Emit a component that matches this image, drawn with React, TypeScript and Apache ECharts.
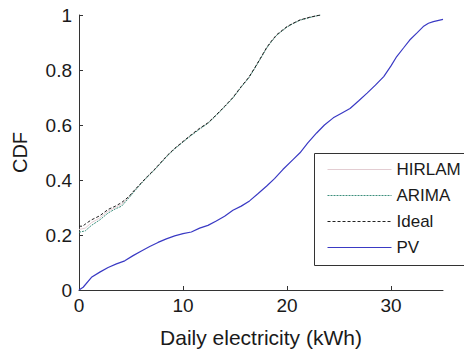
import React, { useEffect, useRef } from "react";
import * as echarts from "echarts";

const xTicks = [0, 10, 20, 30];
const yTicks = [0, 0.2, 0.4, 0.6, 0.8, 1];

const seriesNames = ["HIRLAM", "ARIMA", "Ideal", "PV"];

const idealData: [number, number][] = [
  [0, 0.232], [0.4, 0.232], [0.6, 0.24], [1.2, 0.255], [2.0, 0.27], [2.8, 0.293], [3.5, 0.305],
  [4.1, 0.318], [4.8, 0.34], [5.4, 0.366], [6.0, 0.39], [6.6, 0.414], [7.3, 0.44], [7.9, 0.465],
  [8.5, 0.49], [9.2, 0.515], [10.0, 0.54], [10.8, 0.565], [11.6, 0.588], [12.4, 0.608],
  [13.2, 0.637], [14.0, 0.668], [14.8, 0.7], [15.6, 0.74], [16.3, 0.772], [16.9, 0.808],
  [17.4, 0.84], [18.05, 0.882], [18.5, 0.905], [19.0, 0.928], [20.0, 0.958], [20.6, 0.97],
  [21.25, 0.982], [22.2, 0.992], [23.2, 1.0],
];

const arimaData: [number, number][] = [
  [0, 0.21], [0.6, 0.215], [1.2, 0.235], [2.0, 0.255], [2.8, 0.28], [3.5, 0.295], [4.1, 0.305],
  [4.8, 0.335], [5.4, 0.362], [6.0, 0.388], [6.6, 0.412], [7.3, 0.438], [7.9, 0.463],
  [8.5, 0.488], [9.2, 0.513], [10.0, 0.538], [10.8, 0.562], [11.6, 0.585], [12.4, 0.606],
  [13.2, 0.635], [14.0, 0.666], [14.8, 0.698], [15.6, 0.738], [16.3, 0.77], [16.9, 0.806],
  [17.4, 0.838], [18.05, 0.88], [18.5, 0.903], [19.0, 0.926], [20.0, 0.956], [20.6, 0.969],
  [21.25, 0.981], [22.2, 0.991], [23.2, 1.0],
];

const hirlamData: [number, number][] = [
  [0, 0.22], [0.6, 0.225], [1.2, 0.245], [2.0, 0.262], [2.8, 0.287], [3.5, 0.3], [4.1, 0.312],
  [4.8, 0.338], [5.4, 0.364], [6.0, 0.389], [6.6, 0.413], [7.3, 0.439], [7.9, 0.464],
  [8.5, 0.489], [9.2, 0.514], [10.0, 0.539], [10.8, 0.564], [11.6, 0.587], [12.4, 0.607],
  [13.2, 0.636], [14.0, 0.667], [14.8, 0.699], [15.6, 0.739], [16.3, 0.771], [16.9, 0.807],
  [17.4, 0.839], [18.05, 0.881], [18.5, 0.904], [19.0, 0.927], [20.0, 0.957], [20.6, 0.97],
  [21.25, 0.982], [22.2, 0.992], [23.2, 1.0],
];

const pvData: [number, number][] = [
  [0, 0], [0.4, 0.01], [1.2, 0.046], [2.0, 0.065], [2.8, 0.082], [3.6, 0.095], [4.4, 0.106],
  [5.2, 0.125], [6.0, 0.142], [6.8, 0.158], [7.6, 0.173], [8.4, 0.186], [9.2, 0.197],
  [10.0, 0.205], [10.8, 0.211], [11.6, 0.225], [12.4, 0.235], [13.2, 0.251], [14.0, 0.268],
  [14.8, 0.29], [15.6, 0.305], [16.4, 0.324], [17.2, 0.35], [18.05, 0.378], [18.8, 0.405],
  [19.6, 0.438], [20.6, 0.475], [21.25, 0.499], [22.0, 0.535], [22.85, 0.571], [23.6, 0.6],
  [24.45, 0.626], [25.2, 0.642], [26.06, 0.66], [26.9, 0.688], [27.7, 0.716], [28.5, 0.745],
  [29.3, 0.776], [30.0, 0.815], [30.55, 0.849], [31.2, 0.88], [31.8, 0.909], [32.5, 0.935],
  [33.1, 0.958], [33.6, 0.97], [34.07, 0.976], [35.0, 0.984],
];

const FONT = "Liberation Sans, Arial, sans-serif";

export default function App() {
  const ref = useRef<HTMLDivElement>(null);
  useEffect(() => {
    if (!ref.current) return;
    const chart = echarts.init(ref.current, null, { renderer: "svg" });
    const axisCommon = {
      axisLine: { show: true, lineStyle: { color: "#333", width: 1 } },
      axisTick: { show: true, inside: true, length: 4, lineStyle: { color: "#333" } },
      splitLine: { show: false },
      axisLabel: { color: "#1a1a1a", fontSize: 19, fontFamily: FONT },
      nameTextStyle: { color: "#1a1a1a", fontSize: 20, fontFamily: FONT },
    };
    chart.setOption({
      animation: false,
      backgroundColor: "#fff",
      grid: { left: 79, right: 21, top: 15, bottom: 62, containLabel: false },
      xAxis: {
        type: "value",
        min: 0,
        max: 35,
        interval: 10,
        name: "Daily electricity (kWh)",
        nameLocation: "middle",
        nameGap: 37,
        ...axisCommon,
        nameTextStyle: { ...axisCommon.nameTextStyle, fontSize: 21 },
        axisLabel: {
          ...axisCommon.axisLabel,
          margin: 6,
          customValues: xTicks,
        },
        axisTick: { ...axisCommon.axisTick, customValues: xTicks },
      },
      yAxis: {
        type: "value",
        min: 0,
        max: 1,
        interval: 0.2,
        name: "CDF",
        nameLocation: "middle",
        nameGap: 49,
        ...axisCommon,
        axisLabel: {
          ...axisCommon.axisLabel,
          margin: 7,
          customValues: yTicks,
          formatter: (v: number) => String(Math.round(v * 10) / 10),
        },
        axisTick: { ...axisCommon.axisTick, customValues: yTicks },
      },
      legend: {
        orient: "vertical",
        left: 327,
        top: 161,
        itemWidth: 64,
        itemHeight: 14,
        itemGap: 9,
        padding: 0,
        z: 20,
        data: seriesNames,
        itemStyle: { opacity: 0 },
        lineStyle: { width: 1 },
        textStyle: { color: "#1a1a1a", fontSize: 17, fontFamily: FONT },
      },
      graphic: [
        {
          type: "rect",
          z: 10,
          shape: { x: 314.5, y: 153.5, width: 170, height: 112 },
          style: { fill: "#fff", stroke: "#333", lineWidth: 1 },
        },
      ],
      series: [
        {
          name: "HIRLAM",
          type: "line",
          data: hirlamData,
          symbol: "none",
          lineStyle: { color: "#e3cdd2", width: 1 },
          itemStyle: { color: "#e3cdd2" },
          z: 1,
        },
        {
          name: "ARIMA",
          type: "line",
          data: arimaData,
          symbol: "none",
          lineStyle: { color: "#3c8f7c", width: 1, type: [2, 1] },
          itemStyle: { color: "#3c8f7c" },
          z: 2,
        },
        {
          name: "Ideal",
          type: "line",
          data: idealData,
          symbol: "none",
          lineStyle: { color: "#222", width: 1, type: [3, 2] },
          itemStyle: { color: "#222" },
          z: 3,
        },
        {
          name: "PV",
          type: "line",
          data: pvData,
          symbol: "none",
          lineStyle: { color: "#3a3ac4", width: 1.2 },
          itemStyle: { color: "#3a3ac4" },
          z: 4,
        },
      ],
    });
    return () => chart.dispose();
  }, []);
  return (
    <div
      ref={ref}
      style={{ position: "fixed", left: 0, top: 0, width: 464, height: 353 }}
    />
  );
}
